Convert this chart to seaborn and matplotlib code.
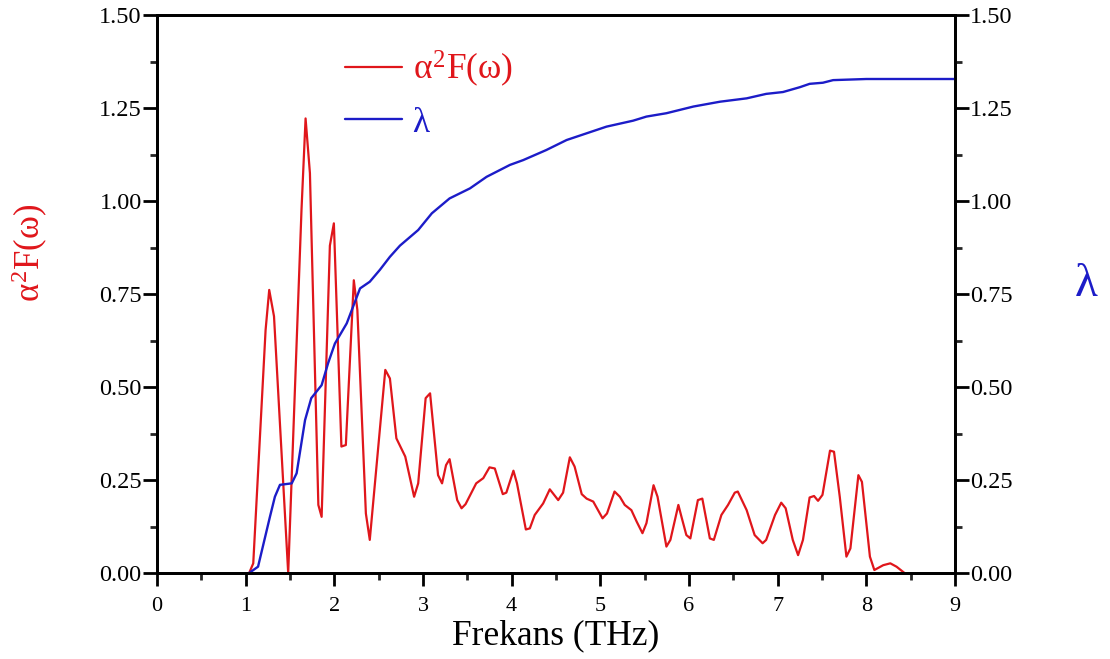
import numpy as np
import pandas as pd
import matplotlib
matplotlib.use("Agg")
import matplotlib.pyplot as plt
import seaborn as sns
from matplotlib.ticker import MultipleLocator

# ---- data ----
freq_a2f = [1.04, 1.086, 1.225, 1.266, 1.32, 1.48, 1.63, 1.676, 1.725, 1.82, 1.857, 1.95, 1.995,
            2.08, 2.13, 2.22, 2.26, 2.356, 2.40, 2.575, 2.627, 2.70, 2.80, 2.90, 2.946, 3.03, 3.08,
            3.17, 3.215, 3.26, 3.30, 3.386, 3.435, 3.48, 3.60, 3.68, 3.75, 3.81, 3.90, 3.94, 4.02,
            4.06, 4.16, 4.205, 4.26, 4.355, 4.43, 4.525, 4.58, 4.656, 4.71, 4.79, 4.845, 4.92,
            5.025, 5.075, 5.16, 5.22, 5.275, 5.35, 5.41, 5.475, 5.52, 5.60, 5.645, 5.745, 5.79,
            5.88, 5.915, 5.97, 6.015, 6.10, 6.15, 6.235, 6.28, 6.365, 6.44, 6.516, 6.55, 6.65,
            6.74, 6.83, 6.87, 6.97, 7.04, 7.09, 7.17, 7.23, 7.285, 7.36, 7.41, 7.455, 7.505,
            7.59, 7.635, 7.70, 7.775, 7.82, 7.91, 7.95, 8.04, 8.09, 8.19, 8.27, 8.34, 8.43]
a2f = [0.0, 0.026, 0.653, 0.761, 0.69, 0.0, 0.976, 1.222, 1.075, 0.183, 0.151, 0.88, 0.94,
       0.34, 0.344, 0.787, 0.707, 0.16, 0.089, 0.546, 0.523, 0.362, 0.313, 0.205, 0.241, 0.47, 0.483,
       0.263, 0.241, 0.29, 0.306, 0.196, 0.174, 0.185, 0.241, 0.255, 0.284, 0.281, 0.212, 0.216, 0.275,
       0.241, 0.117, 0.12, 0.156, 0.187, 0.225, 0.196, 0.216, 0.311, 0.286, 0.212, 0.2, 0.192,
       0.147, 0.16, 0.219, 0.205, 0.183, 0.169, 0.138, 0.107, 0.134, 0.236, 0.205, 0.071, 0.089,
       0.183, 0.151, 0.102, 0.093, 0.196, 0.2, 0.093, 0.089, 0.156, 0.183, 0.216, 0.219, 0.169,
       0.102, 0.08, 0.089, 0.156, 0.189, 0.174, 0.089, 0.048, 0.089, 0.203, 0.207, 0.194, 0.21,
       0.329, 0.326, 0.205, 0.044, 0.066, 0.263, 0.245, 0.044, 0.008, 0.021, 0.026, 0.017, 0.0]

freq_lam = [1.04, 1.14, 1.274, 1.33, 1.387, 1.52, 1.575, 1.67, 1.74, 1.857, 1.93, 2.007, 2.14,
            2.29, 2.40, 2.514, 2.627, 2.74, 2.946, 3.10, 3.30, 3.53, 3.717, 3.98, 4.13, 4.39,
            4.62, 4.845, 5.07, 5.37, 5.52, 5.745, 6.05, 6.35, 6.65, 6.87, 7.06, 7.25, 7.36,
            7.51, 7.625, 8.0, 9.0]
lam = [0.0, 0.017, 0.151, 0.205, 0.237, 0.241, 0.268, 0.411, 0.47, 0.505, 0.564, 0.617, 0.671,
       0.765, 0.783, 0.815, 0.85, 0.88, 0.922, 0.967, 1.007, 1.034, 1.065, 1.097, 1.11, 1.137,
       1.164, 1.182, 1.2, 1.216, 1.227, 1.236, 1.254, 1.267, 1.276, 1.288, 1.293, 1.306, 1.315,
       1.318, 1.325, 1.328, 1.328]

x_ticks = [0, 1, 2, 3, 4, 5, 6, 7, 8, 9]
y_ticks = [0.0, 0.25, 0.5, 0.75, 1.0, 1.25, 1.5]

RED = "#e0161b"
BLUE = "#1c1cc8"
A2F_LABEL = r"$\alpha^{2}\mathrm{F}(\omega)$"
LAM_LABEL = "λ"

sns.set_style("white")
plt.rcParams["font.family"] = ["Liberation Serif", "DejaVu Serif"]
plt.rcParams["mathtext.fontset"] = "custom"
plt.rcParams["mathtext.rm"] = "Liberation Serif"
plt.rcParams["mathtext.it"] = "Liberation Serif"
plt.rcParams["mathtext.bf"] = "Liberation Serif:bold"
plt.rcParams["axes.labelcolor"] = "black"
plt.rcParams["text.color"] = "black"

fig = plt.figure(figsize=(11.10, 6.59), dpi=100)
ax = fig.add_axes([0.1414, 0.1305, 0.719, 0.8467])
ax2 = ax.twinx()

df_a = pd.DataFrame({"freq": freq_a2f, "val": a2f})
df_l = pd.DataFrame({"freq": freq_lam, "val": lam})
sns.lineplot(data=df_a, x="freq", y="val", ax=ax, color=RED, lw=1.6, sort=False,
             estimator=None, label=A2F_LABEL, legend=False)
sns.lineplot(data=df_l, x="freq", y="val", ax=ax2, color=BLUE, lw=1.7, sort=False,
             estimator=None, label=LAM_LABEL, legend=False)

LW = 2.0
for a in (ax, ax2):
    a.set_xlim(0, 9)
    a.set_ylim(0, 1.5)
    a.set_yticks(y_ticks)
    a.yaxis.set_minor_locator(MultipleLocator(0.125))
    for s in a.spines.values():
        s.set_linewidth(LW)
        s.set_color("black")
        s.set_visible(True)

ax.set_xticks(x_ticks)
ax.xaxis.set_minor_locator(MultipleLocator(0.5))
ax.set_yticklabels([f"{v:.2f}" for v in y_ticks])
ax2.set_yticklabels([f"{v:.2f}" for v in y_ticks])

ax.tick_params(axis="x", which="major", direction="out", length=9.5, width=LW,
               labelsize=16, colors="black", pad=8, bottom=True, top=False)
ax.tick_params(axis="x", which="minor", direction="out", length=5, width=LW,
               bottom=True, top=False)
ax.tick_params(axis="y", which="major", direction="out", length=10, width=LW,
               labelsize=17.5, colors="black", pad=1, left=True, right=False)
ax.tick_params(axis="y", which="minor", direction="out", length=5, width=LW,
               left=True, right=False)
ax2.tick_params(axis="y", which="major", direction="out", length=10, width=LW,
                labelsize=17.5, colors="black", pad=1, right=True, left=False)
ax2.tick_params(axis="y", which="minor", direction="out", length=5, width=LW,
                right=True, left=False)

ax.set_xlabel("Frekans (THz)", fontsize=25.5, labelpad=2, color="black")
ax.set_ylabel(A2F_LABEL, fontsize=25, color=RED)
ax.yaxis.set_label_coords(-0.134, 0.573)
ax2.set_ylabel(LAM_LABEL, fontsize=34, color=BLUE, rotation=0, va="center", ha="center")
ax2.yaxis.set_label_coords(1.164, 0.516)

h1, l1 = ax.get_legend_handles_labels()
h2, l2 = ax2.get_legend_handles_labels()
leg = ax.legend(h1 + h2, l1 + l2, loc="upper left", bbox_to_anchor=(0.236, 0.94),
                frameon=False, fontsize=25.5, handlelength=1.6, handletextpad=0.3,
                labelspacing=0.5, borderpad=0, borderaxespad=0)
for t, c in zip(leg.get_texts(), [RED, BLUE]):
    t.set_color(c)

fig.savefig("out.png", dpi=100)
